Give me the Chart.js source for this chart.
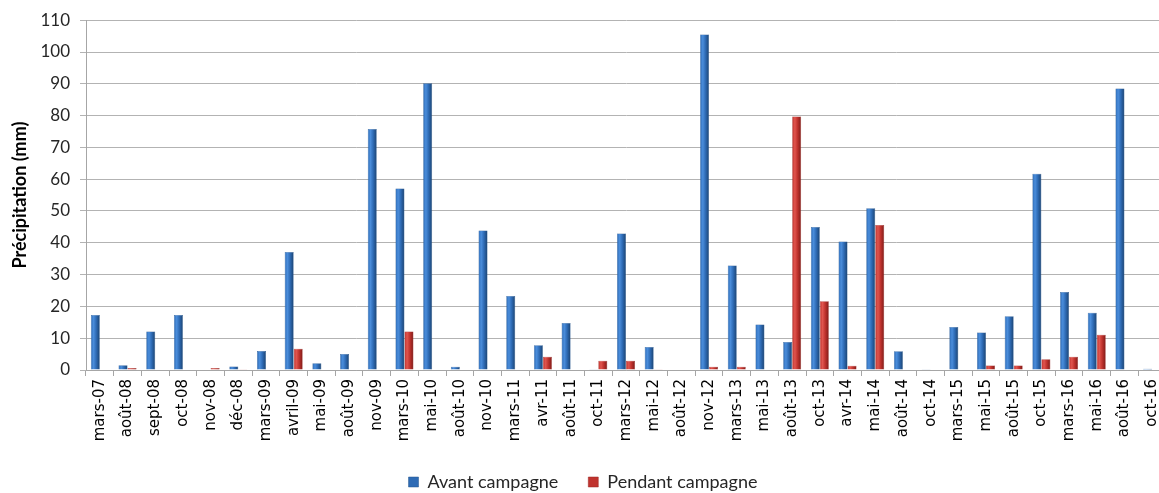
<!DOCTYPE html>
<html>
<head>
<meta charset="utf-8">
<script src="https://cdn.jsdelivr.net/npm/chart.js@4/dist/chart.umd.min.js"></script>
<style>
  html, body { margin: 0; padding: 0; background: #fff; overflow: hidden; }
  #wrap { width: 1175px; height: 493px; }
</style>
</head>
<body>
<div id="wrap"><canvas id="myChart" width="1175" height="493"></canvas></div>
<script>
const months = ['mars-07', 'août-08', 'sept-08', 'oct-08', 'nov-08', 'déc-08', 'mars-09', 'avril-09',
  'mai-09', 'août-09', 'nov-09', 'mars-10', 'mai-10', 'août-10', 'nov-10', 'mars-11', 'avr-11',
  'août-11', 'oct-11', 'mars-12', 'mai-12', 'août-12', 'nov-12', 'mars-13', 'mai-13', 'août-13',
  'oct-13', 'avr-14', 'mai-14', 'août-14', 'oct-14', 'mars-15', 'mai-15', 'août-15', 'oct-15',
  'mars-16', 'mai-16', 'août-16', 'oct-16']

const avant = [17.3, 1.5, 12.1, 17.3, 0, 1.1, 6, 37.1, 2.1, 5, 75.8, 57.1, 90.2, 1, 43.9, 23.3, 7.8,
  14.8, 0.1, 42.9, 7.2, 0, 105.5, 32.9, 14.3, 8.8, 45, 40.4, 50.9, 5.9, 0.1, 13.5, 11.8, 16.9, 61.7,
  24.5, 18, 88.5, 0.4]

const pendant = [0, 0.6, 0, 0, 0.6, 0.2, 0, 6.7, 0, 0, 0, 12.1, 0, 0, 0, 0, 4.2, 0, 2.9, 2.9, 0.2, 0,
  1, 1, 0, 79.7, 21.6, 1.35, 45.6, 0, 0, 0, 1.4, 1.4, 3.4, 4.2, 11.1, 0, 0]

const yTicks = [0, 10, 20, 30, 40, 50, 60, 70, 80, 90, 100, 110]

const groupPct = 0.65

// shaded fill so each bar looks like a rounded column
function columnFill(light, mid, dark, side) {
  return (ctx) => {
    const chart = ctx.chart
    const xs = chart.scales.x
    if (!chart.chartArea || ctx.dataIndex === undefined || !xs) return mid
    const c = xs.getPixelForValue(ctx.dataIndex)
    const w = (xs.width / months.length) * groupPct / 2
    const x0 = side < 0 ? c - w : c
    const g = chart.ctx.createLinearGradient(x0, 0, x0 + w, 0)
    g.addColorStop(0, mid)
    g.addColorStop(0.3, light)
    g.addColorStop(0.6, mid)
    g.addColorStop(1, dark)
    return g
  }
}

// keep the legend's wide item spacing without it eating vertical room
const legendHeight = {
  id: 'legendHeight',
  afterInit(chart) {
    const lg = chart.legend
    const fit = lg.fit.bind(lg)
    lg.fit = function () { fit(); this.height = 50 }
  }
}

const data = {
  labels: months,
  datasets: [{
    label: 'Avant campagne',
    data: avant,
    backgroundColor: columnFill('#4a8ddb', '#2e6bb5', '#1b426f', -1),
    borderColor: '#24568f',
    borderWidth: 0.5,
    categoryPercentage: groupPct,
    barPercentage: 1
  }, {
    label: 'Pendant campagne',
    data: pendant,
    backgroundColor: columnFill('#e0554e', '#c0332e', '#7c1a17', 1),
    borderColor: '#9a2622',
    borderWidth: 0.5,
    categoryPercentage: groupPct,
    barPercentage: 1
  }]
}

const config = {
  type: 'bar',
  data: data,
  options: {
    responsive: false,
    animation: false,
    layout: { padding: { top: 18, right: 9, bottom: 0, left: 0 } },
    plugins: {
      tooltip: { enabled: false },
      legend: {
        position: 'bottom',
        labels: {
          boxWidth: 10,
          boxHeight: 10,
          padding: 30,
          color: '#262626',
          font: { family: 'Lato', size: 18 },
          generateLabels(chart) {
            const fills = ['#2e6bb5', '#c0332e']
            return chart.data.datasets.map((ds, i) => ({
              text: ds.label,
              fillStyle: fills[i],
              strokeStyle: ds.borderColor,
              lineWidth: 0.5,
              datasetIndex: i,
              fontColor: '#262626'
            }))
          }
        }
      }
    },
    scales: {
      x: {
        offset: true,
        grid: {
          offset: true,
          drawOnChartArea: false,
          drawTicks: true,
          tickLength: 6,
          color: '#a6a6a6'
        },
        border: { display: true, color: '#a6a6a6' },
        ticks: {
          autoSkip: false,
          maxRotation: 90,
          minRotation: 90,
          padding: 3,
          color: '#000',
          font: { family: 'DejaVu Sans', size: 15 }
        },
        afterFit(scale) { scale.height = 73 }
      },
      y: {
        min: 0,
        max: 110,
        afterBuildTicks(scale) { scale.ticks = yTicks.map(v => ({ value: v })) },
        grid: { color: '#b3b3b3', tickLength: 6 },
        border: { display: true, color: '#a6a6a6' },
        ticks: {
          padding: 10,
          color: '#262626',
          font: { family: 'Lato', size: 17 }
        },
        title: {
          display: true,
          text: 'Précipitation (mm)',
          color: '#000',
          padding: { top: 9, bottom: 0 },
          font: { family: 'Lato', size: 18, weight: 'bold' }
        },
        afterFit(scale) { scale.width = 86 }
      }
    }
  },
  plugins: [legendHeight]
}

const myChart = new Chart(document.getElementById('myChart'), config)
</script>
</body>
</html>
